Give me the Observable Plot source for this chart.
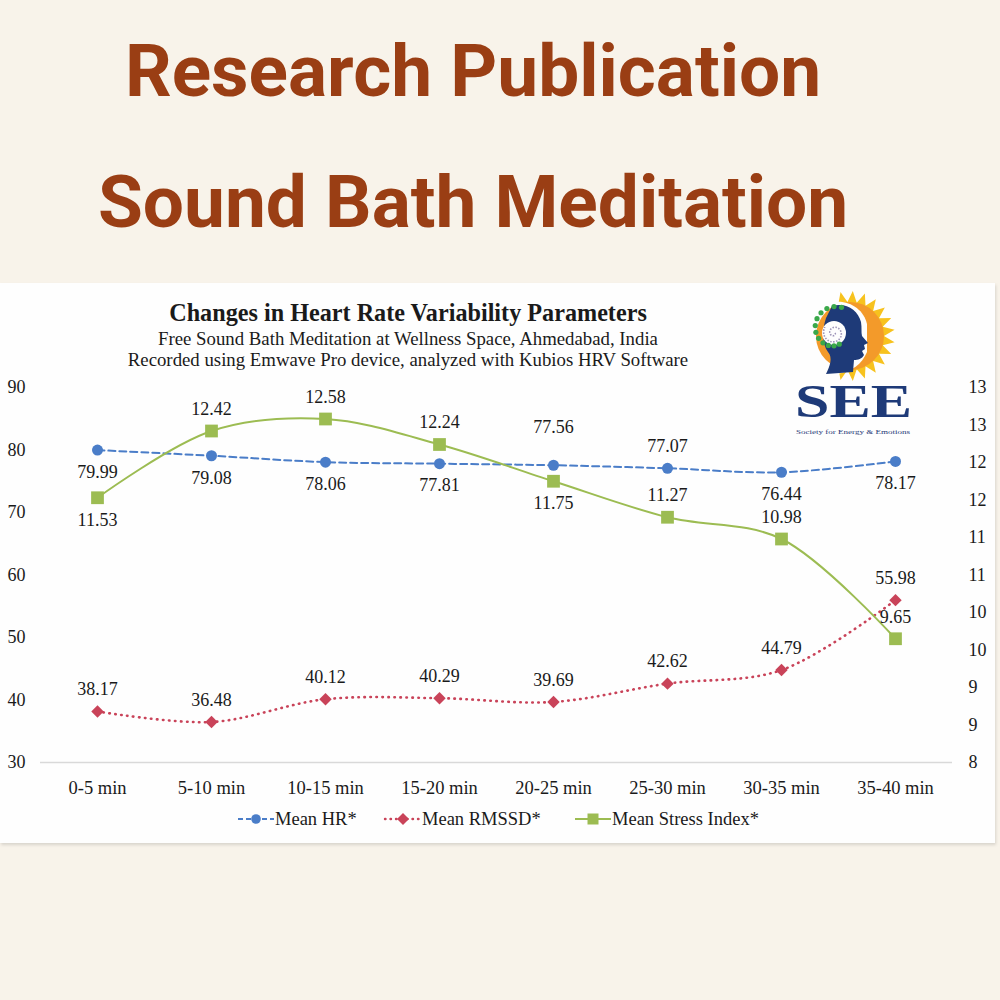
<!DOCTYPE html>
<html><head><meta charset="utf-8">
<script src="https://cdn.jsdelivr.net/npm/d3@7"></script>
<script src="https://cdn.jsdelivr.net/npm/@observablehq/plot@0.6"></script>
<style>
html,body{margin:0;padding:0;background:#f8f3ea;}
#page{position:relative;width:1000px;height:1000px;overflow:hidden;background:#f8f3ea;}
.hdr{position:absolute;left:0;width:946px;text-align:center;font-family:Roboto,sans-serif;font-weight:700;font-size:73px;line-height:73px;color:#9a3e14;white-space:nowrap;}
#panel{position:absolute;left:0;top:283px;width:995px;height:560px;background:#fefefe;box-shadow:1px 2px 3px rgba(0,0,0,0.13);}
#chart{position:absolute;left:0;top:283px;}
#overlay{position:absolute;left:0;top:0;pointer-events:none;}
</style>
</head><body>
<div id="page">
  <div class="hdr" style="top:35px">Research Publication</div>
  <div class="hdr" style="top:166px">Sound Bath Meditation</div>
  <div id="panel"></div>
  <div id="chart"></div>
  <svg id="overlay" width="1000" height="1000"></svg>
</div>
<script>
// ---- data ----
const periods = ["0-5 min","5-10 min","10-15 min","15-20 min","20-25 min","25-30 min","30-35 min","35-40 min"];
const meanHR = [79.99, 79.08, 78.06, 77.81, 77.56, 77.07, 76.44, 78.17];
const meanRMSSD = [38.17, 36.48, 40.12, 40.29, 39.69, 42.62, 44.79, 55.98];
const meanStress = [11.53, 12.42, 12.58, 12.24, 11.75, 11.27, 10.98, 9.65];
const leftTicks = [30, 40, 50, 60, 70, 80, 90];
const rightTicks = [8, 8.5, 9, 9.5, 10, 10.5, 11, 11.5, 12, 12.5, 13];
const seriesNames = ["Mean HR*", "Mean RMSSD*", "Mean Stress Index*"];
// label placement relative to the point
const hrLabelPos = ["below","below","below","below","high","above","below","below"];
const rmssdLabelPos = ["above","above","above","above","above","above","above","above"];
const stressLabelPos = ["below","above","above","above","below","above","above","above"];

// ---- styles ----
const C = {hr:"#4a7dc8", rm:"#c94359", st:"#9cbc52", text:"#1a1a1a"};
const serif = "'Liberation Serif','Times New Roman',serif";

// secondary axis (8..13) mapped onto primary (30..90)
const toLeft = v => 30 + (v - 8) * 12;
const fromLeft = d => 8 + (d - 30) / 12;

const hr = periods.map((p, i) => ({p, v: meanHR[i], y: meanHR[i], pos: hrLabelPos[i]}));
const rm = periods.map((p, i) => ({p, v: meanRMSSD[i], y: meanRMSSD[i], pos: rmssdLabelPos[i]}));
const st = periods.map((p, i) => ({p, v: meanStress[i], y: toLeft(meanStress[i]), pos: stressLabelPos[i]}));

const offs = {above: -22, below: 22, high: -38};
function labels(rows) {
  return Object.entries(offs).map(([k, dy]) =>
    Plot.text(rows.filter(d => d.pos === k), {
      x: "p", y: "y", text: d => d.v.toFixed(2), dy, fill: C.text, fontSize: 18, lineAnchor: "middle"
    }));
}

const chart = Plot.plot({
  width: 995, height: 560,
  marginTop: 104, marginBottom: 81, marginLeft: 40, marginRight: 43,
  style: {fontFamily: serif, fontSize: "18px", color: C.text, background: "transparent"},
  x: {type: "point", domain: periods, padding: 0.5},
  y: {domain: [30, 90]},
  marks: [
    Plot.ruleY([30], {stroke: "#d9d9d9", strokeWidth: 1.5}),
    Plot.axisY({ticks: leftTicks, tickSize: 0, tickPadding: 15, label: null, fontSize: 18}),
    Plot.axisY({anchor: "right", ticks: rightTicks.map(toLeft), tickFormat: d => String(Math.round(fromLeft(d))),
      tickSize: 0, tickPadding: 16, label: null, fontSize: 18}),
    Plot.axisX({tickSize: 0, tickPadding: 18, label: null, fontSize: 18.5}),
    Plot.line(hr, {x: "p", y: "y", stroke: C.hr, strokeWidth: 2, strokeDasharray: "7,4", curve: "catmull-rom"}),
    Plot.line(rm, {x: "p", y: "y", stroke: C.rm, strokeWidth: 2.6, strokeDasharray: "0.5,5.5", strokeLinecap: "round", curve: "catmull-rom"}),
    Plot.line(st, {x: "p", y: "y", stroke: C.st, strokeWidth: 2, curve: "catmull-rom"}),
    Plot.dot(hr, {x: "p", y: "y", r: 5.5, fill: C.hr}),
    Plot.dot(rm, {x: "p", y: "y", r: 5.6, symbol: "diamond2", fill: C.rm}),
    Plot.dot(st, {x: "p", y: "y", r: 7.2, symbol: "square", fill: C.st}),
    ...labels(hr), ...labels(rm), ...labels(st)
  ]
});
document.getElementById("chart").appendChild(chart);

// ---- overlay: chart title, legend, logo ----
const ov = d3.select("#overlay");
const tx = 408;
ov.append("text").attr("x", tx).attr("y", 321).attr("text-anchor", "middle")
  .style("font-family", serif).style("font-weight", "700").style("font-size", "24.2px").attr("fill", C.text)
  .text("Changes in Heart Rate Variability Parameters");
ov.append("text").attr("x", tx).attr("y", 345).attr("text-anchor", "middle")
  .style("font-family", serif).style("font-size", "18.8px").attr("fill", C.text)
  .text("Free Sound Bath Meditation at Wellness Space, Ahmedabad, India");
ov.append("text").attr("x", tx).attr("y", 366).attr("text-anchor", "middle")
  .style("font-family", serif).style("font-size", "18.8px").attr("fill", C.text)
  .text("Recorded using Emwave Pro device, analyzed with Kubios HRV Software");

// legend
const legendItems = [
  {name: seriesNames[0], c: C.hr, dash: "5,3", sym: "circle", x: 238},
  {name: seriesNames[1], c: C.rm, dash: "0.5,5", sym: "diamond", x: 385},
  {name: seriesNames[2], c: C.st, dash: null, sym: "square", x: 575}
];
const ly = 819;
legendItems.forEach(it => {
  const g = ov.append("g");
  g.append("line").attr("x1", it.x).attr("x2", it.x + 36).attr("y1", ly).attr("y2", ly)
    .attr("stroke", it.c).attr("stroke-width", it.sym === "diamond" ? 2.4 : 2)
    .attr("stroke-linecap", it.sym === "diamond" ? "round" : "butt")
    .attr("stroke-dasharray", it.dash);
  const cx = it.x + 18;
  if (it.sym === "circle") g.append("circle").attr("cx", cx).attr("cy", ly).attr("r", 4.8).attr("fill", it.c);
  if (it.sym === "diamond") g.append("path").attr("d", `M${cx},${ly-6}L${cx+6},${ly}L${cx},${ly+6}L${cx-6},${ly}Z`).attr("fill", it.c);
  if (it.sym === "square") g.append("rect").attr("x", cx - 5.5).attr("y", ly - 5.5).attr("width", 11).attr("height", 11).attr("fill", it.c);
  g.append("text").attr("x", it.x + 37).attr("y", ly + 6).style("font-family", serif).style("font-size", "18.5px")
    .attr("fill", C.text).text(it.name);
});

// logo (SEE – Society for Energy & Emotions)
const logo = ov.append("g");
const sc = [850, 336];
const rays = [];
for (let i = 0; i <= 28; i++) {
  const a = (-110 + i * (220 / 28)) * Math.PI / 180;
  const r = i % 2 ? 45 : 34;
  rays.push([sc[0] + r * Math.cos(a), sc[1] + r * Math.sin(a)]);
}
logo.append("path").attr("d", "M" + sc.join(",") + "L" + rays.map(p => p.join(",")).join("L") + "Z").attr("fill", "#f7c21e");
logo.append("circle").attr("cx", sc[0]).attr("cy", sc[1]).attr("r", 34).attr("fill", "#f39a2a");
logo.append("path").attr("fill", "#fefefe")
  .attr("d", "M834,302 C850,300 864,310 867,324 L867,352 C862,364 852,372 836,374 Z");
logo.append("path").attr("fill", "#1e3a78")
  .attr("d", "M832,306 C846,302 858,310 861,322 C862,328 861,332 862,336 L868,343 L864,345 L865,349 L862,351 L864,355 C862,359 858,360 854,360 L853,372 L826,374 C830,366 833,358 828,352 C822,344 822,330 826,318 Z");
logo.append("circle").attr("cx", 834).attr("cy", 333).attr("r", 12).attr("fill", "#fefefe");
const spiral = [];
for (let t = 0; t < 3.2 * Math.PI; t += 0.25) {
  const r = 1 + t * 1.0;
  spiral.push([834 + r * Math.cos(t), 333 + r * Math.sin(t)]);
}
logo.append("path").attr("d", "M" + spiral.map(p => p.join(",")).join("L")).attr("fill", "none")
  .attr("stroke", "#9c93b8").attr("stroke-width", 1.6).attr("stroke-dasharray", "1.5,1.5");
for (let i = 0; i < 12; i++) {
  const a = (-70 - i * 20) * Math.PI / 180;
  const r = 22 - i * 0.6;
  logo.append("circle").attr("cx", 834 + r * Math.cos(a)).attr("cy", 333 - 4 + r * Math.sin(a) * 1.05)
    .attr("r", 2.6).attr("fill", "#3aa84a");
}
logo.append("text").attr("x", 795).attr("y", 417).attr("textLength", 117).attr("lengthAdjust", "spacingAndGlyphs")
  .style("font-family", serif).style("font-weight", "700").style("font-size", "46px").attr("fill", "#1e3a78").text("SEE");
logo.append("text").attr("x", 796).attr("y", 434).attr("textLength", 114).attr("lengthAdjust", "spacingAndGlyphs")
  .style("font-family", serif).style("font-size", "6.5px").attr("fill", "#1e3a78").text("Society for Energy & Emotions");
</script>
</body></html>
